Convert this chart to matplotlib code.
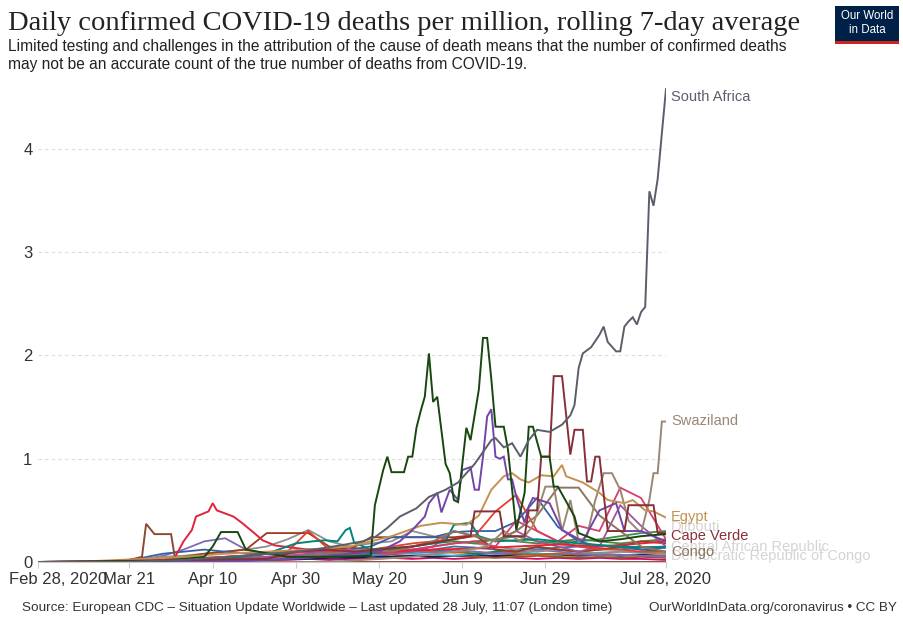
import numpy as np
import pandas as pd
import matplotlib
matplotlib.use("Agg")
from matplotlib import pyplot as plt
from matplotlib import transforms
from matplotlib.patches import Rectangle

W, H = 904, 619
START = pd.Timestamp("2020-02-28")

# x axis: days since Feb 28, 2020
tick_days = [0, 22, 42, 62, 82, 102, 122, 151]
tick_labels = ["Feb 28, 2020", "Mar 21", "Apr 10", "Apr 30", "May 20", "Jun 9", "Jun 29", "Jul 28, 2020"]
y_ticks = [0, 1, 2, 3, 4]

# coarse grid used by the many low-level countries
grid_days = list(range(0, 150, 5)) + [151]

# --- highlighted series (day, value) ---
south_africa_days = [0, 20, 28, 35, 42, 50, 56, 62, 68, 74, 78, 81, 84, 87, 91, 94, 98, 101, 105, 109,
                     110, 112, 114, 116, 118, 120, 123, 126, 128, 129, 130, 131, 133, 135, 136, 137, 139,
                     140, 141, 142, 143, 144, 145, 146, 147, 148, 149, 150, 151]
south_africa = [0, 0, 0.01, 0.02, 0.04, 0.06, 0.08, 0.1, 0.13, 0.17, 0.2, 0.24, 0.33, 0.44, 0.52, 0.63,
                0.7, 0.77, 0.95, 1.18, 1.2, 1.11, 1.15, 1.02, 1.18, 1.28, 1.26, 1.33, 1.42, 1.52, 1.88,
                2.02, 2.08, 2.2, 2.28, 2.13, 2.04, 2.04, 2.28, 2.33, 2.37, 2.3, 2.42, 2.47, 3.59, 3.45,
                3.71, 4.15, 4.58]

dark_green_days = [0, 30, 40, 42, 44, 48, 50, 60, 70, 80, 81, 83, 84, 85, 88, 89, 90, 91, 92, 93,
                   94, 95, 96, 98, 99, 100, 101, 103, 104, 106, 107, 108, 109, 110, 112, 113, 114, 115,
                   117, 118, 119, 121, 123, 124, 125, 129, 130, 135, 140, 145, 151]
dark_green = [0, 0.01, 0.05, 0.15, 0.29, 0.29, 0.12, 0.05, 0.05, 0.06, 0.55, 0.89, 1.02, 0.87, 0.87,
              1.02, 1.02, 1.3, 1.46, 1.6, 2.02, 1.55, 1.6, 0.95, 0.86, 0.6, 0.58, 1.3, 1.18, 1.67, 2.17,
              2.17, 1.77, 1.31, 1.31, 1.09, 0.7, 0.31, 0.67, 1.31, 1.31, 1.02, 1.02, 0.73, 0.73, 0.44,
              0.28, 0.2, 0.22, 0.25, 0.27]

purple_days = [0, 50, 65, 75, 82, 87, 90, 93, 94, 96, 97, 99, 101, 102, 104, 105, 106, 107, 108, 109,
               110, 111, 112, 113, 114, 115, 117, 118, 119, 123, 126, 131, 135, 139, 141, 145, 151]
purple = [0, 0.01, 0.04, 0.08, 0.1, 0.2, 0.31, 0.44, 0.57, 0.67, 0.48, 0.7, 0.6, 0.89, 0.92, 0.7, 0.7,
          1.02, 1.41, 1.48, 1.02, 1.0, 1.02, 0.8, 0.8, 0.63, 0.38, 0.54, 0.62, 0.57, 0.31, 0.2, 0.5,
          0.57, 0.3, 0.3, 0.2]

cape_verde_days = [0, 55, 62, 70, 76, 90, 104, 105, 111, 112, 117, 118, 120, 121, 123, 124, 126, 128,
                   129, 131, 132, 133, 134, 135, 137, 141, 142, 148, 149, 151]
cape_verde = [0, 0.03, 0.1, 0.12, 0.1, 0.15, 0.25, 0.49, 0.49, 0.25, 0.25, 0.5, 0.5, 1.02, 1.02, 1.8,
              1.8, 1.04, 1.28, 1.28, 0.78, 0.78, 1.02, 1.02, 0.3, 0.3, 0.55, 0.55, 0.28, 0.28]

swaziland_days = [0, 70, 90, 100, 108, 112, 116, 119, 122, 124, 126, 128, 130, 132, 134, 136, 138,
                  140, 142, 145, 147, 148, 149, 150, 151]
swaziland = [0, 0, 0.05, 0.1, 0.15, 0.3, 0.2, 0.35, 0.73, 0.73, 0.3, 0.6, 0.2, 0.25, 0.6, 0.86, 0.86,
             0.7, 0.4, 0.28, 0.6, 0.86, 0.86, 1.36, 1.36]

egypt_days = [0, 14, 25, 35, 45, 55, 65, 75, 85, 92, 97, 103, 106, 109, 112, 114, 116, 118, 121, 124,
              126, 127, 131, 135, 137, 141, 143, 146, 148, 151]
egypt = [0, 0.01, 0.03, 0.05, 0.08, 0.1, 0.12, 0.15, 0.25, 0.35, 0.38, 0.36, 0.45, 0.7, 0.83, 0.86,
         0.8, 0.77, 0.84, 0.83, 0.94, 0.83, 0.77, 0.67, 0.6, 0.57, 0.6, 0.5, 0.49, 0.43]

red_days = [0, 25, 30, 33, 35, 37, 38, 41, 42, 43, 45, 47, 49, 52, 54, 57, 59, 65, 75, 85, 95, 105,
            115, 125, 135, 145, 151]
red = [0, 0.01, 0.02, 0.05, 0.2, 0.31, 0.44, 0.49, 0.57, 0.5, 0.47, 0.44, 0.38, 0.28, 0.21, 0.16, 0.15,
       0.12, 0.1, 0.1, 0.12, 0.13, 0.15, 0.17, 0.15, 0.18, 0.2]

brown_days = [0, 20, 25, 26, 28, 32, 33, 40, 50, 60, 70, 80, 90, 100, 110, 120, 130, 140, 151]
brown = [0, 0, 0.05, 0.37, 0.27, 0.27, 0.02, 0.02, 0.01, 0, 0, 0, 0, 0, 0, 0, 0, 0, 0]

teal_days = [0, 30, 45, 55, 62, 66, 69, 72, 74, 75, 76, 80, 90, 98, 100, 104, 106, 110, 120, 130, 140, 151]
teal = [0, 0.01, 0.03, 0.08, 0.18, 0.2, 0.21, 0.2, 0.31, 0.33, 0.19, 0.12, 0.15, 0.2, 0.36, 0.38, 0.25,
        0.2, 0.22, 0.18, 0.15, 0.14]

# --- low-level countries on the 5-day grid ---
congo = [0, 0, 0, 0, 0, 0, 0, 0, 0, 0.01, 0.02, 0.03, 0.05, 0.06, 0.08, 0.1, 0.12, 0.1, 0.15, 0.2,
         0.3, 0.25, 0.2, 0.3, 0.45, 0.72, 0.72, 0.45, 0.3, 0.15, 0.1]
low_blue = [0, 0, 0, 0, 0.01, 0.04, 0.08, 0.1, 0.12, 0.1, 0.08, 0.08, 0.1, 0.09, 0.1, 0.12, 0.15, 0.24,
            0.24, 0.24, 0.29, 0.3, 0.3, 0.39, 0.62, 0.34, 0.2, 0.15, 0.16, 0.12, 0.14]
low_slate = [0, 0, 0, 0, 0, 0.02, 0.06, 0.12, 0.2, 0.23, 0.12, 0.08, 0.06, 0.05, 0.06, 0.07, 0.06, 0.08,
             0.1, 0.09, 0.12, 0.1, 0.08, 0.1, 0.12, 0.1, 0.08, 0.06, 0.07, 0.06, 0.05]
low_orange = [0, 0, 0, 0, 0, 0.01, 0.02, 0.03, 0.04, 0.05, 0.06, 0.08, 0.1, 0.12, 0.13, 0.14, 0.12, 0.1,
              0.12, 0.1, 0.09, 0.1, 0.08, 0.08, 0.07, 0.08, 0.07, 0.08, 0.07, 0.06, 0.06]
low_rust = [0, 0, 0, 0, 0, 0, 0.02, 0.05, 0.08, 0.1, 0.12, 0.28, 0.28, 0.28, 0.15, 0.12, 0.24, 0.24,
            0.24, 0.24, 0.24, 0.26, 0.12, 0.1, 0.15, 0.12, 0.1, 0.12, 0.15, 0.2, 0.18]
low_pink = [0, 0, 0, 0, 0, 0, 0.01, 0.02, 0.04, 0.05, 0.06, 0.08, 0.08, 0.1, 0.12, 0.1, 0.1, 0.09, 0.12,
            0.15, 0.18, 0.2, 0.15, 0.4, 0.3, 0.2, 0.35, 0.3, 0.72, 0.62, 0.22]
low_gray = [0, 0, 0, 0, 0, 0.03, 0.05, 0.06, 0.08, 0.1, 0.12, 0.15, 0.22, 0.31, 0.2, 0.15, 0.18, 0.2,
            0.3, 0.25, 0.2, 0.18, 0.15, 0.12, 0.1, 0.12, 0.1, 0.08, 0.1, 0.09, 0.08]
low_green = [0, 0, 0, 0, 0, 0, 0.01, 0.02, 0.03, 0.05, 0.06, 0.08, 0.1, 0.12, 0.1, 0.08, 0.1, 0.12,
             0.15, 0.18, 0.2, 0.18, 0.22, 0.25, 0.2, 0.18, 0.2, 0.22, 0.25, 0.28, 0.3]
low_magenta = [0, 0, 0, 0, 0, 0, 0, 0.01, 0.02, 0.03, 0.04, 0.05, 0.06, 0.08, 0.1, 0.12, 0.1, 0.08,
               0.1, 0.15, 0.3, 0.25, 0.2, 0.3, 0.2, 0.15, 0.1, 0.15, 0.55, 0.35, 0.15]
low_salmon = [0, 0, 0, 0, 0, 0, 0.01, 0.02, 0.03, 0.05, 0.06, 0.08, 0.1, 0.3, 0.12, 0.1, 0.12, 0.15,
              0.18, 0.2, 0.22, 0.25, 0.49, 0.65, 0.3, 0.2, 0.15, 0.12, 0.12, 0.1, 0.1]
low_olive = [0, 0, 0, 0, 0, 0, 0, 0.01, 0.02, 0.03, 0.04, 0.05, 0.06, 0.07, 0.08, 0.1, 0.12, 0.14, 0.12,
             0.15, 0.18, 0.2, 0.22, 0.2, 0.18, 0.2, 0.22, 0.2, 0.18, 0.2, 0.22]
low_navy = [0, 0, 0, 0, 0, 0, 0, 0, 0.01, 0.01, 0.02, 0.02, 0.03, 0.03, 0.04, 0.04, 0.05, 0.05, 0.06,
            0.05, 0.06, 0.07, 0.06, 0.07, 0.08, 0.07, 0.06, 0.07, 0.06, 0.07, 0.06]
low_cyan = [0, 0, 0, 0, 0, 0, 0, 0.01, 0.01, 0.02, 0.03, 0.04, 0.05, 0.06, 0.05, 0.06, 0.08, 0.1, 0.08,
            0.07, 0.06, 0.08, 0.09, 0.1, 0.08, 0.07, 0.08, 0.09, 0.1, 0.09, 0.08]
low_steel = [0, 0, 0, 0, 0, 0, 0.01, 0.02, 0.03, 0.03, 0.04, 0.05, 0.06, 0.07, 0.06, 0.08, 0.1, 0.12,
             0.1, 0.12, 0.15, 0.14, 0.12, 0.1, 0.12, 0.14, 0.15, 0.13, 0.12, 0.14, 0.15]
low_brown = [0, 0, 0, 0, 0, 0, 0, 0, 0.01, 0.02, 0.03, 0.03, 0.04, 0.05, 0.04, 0.05, 0.06, 0.07, 0.06,
             0.05, 0.06, 0.05, 0.04, 0.05, 0.06, 0.05, 0.04, 0.05, 0.04, 0.05, 0.04]
low_hotpink = [0, 0, 0, 0, 0, 0, 0, 0, 0, 0.01, 0.01, 0.02, 0.02, 0.03, 0.02, 0.03, 0.03, 0.04, 0.03,
               0.04, 0.03, 0.04, 0.05, 0.04, 0.03, 0.04, 0.03, 0.04, 0.03, 0.03, 0.02]
low_teal = [0, 0, 0, 0, 0, 0, 0.01, 0.02, 0.02, 0.03, 0.04, 0.04, 0.05, 0.06, 0.07, 0.06, 0.08, 0.09,
            0.1, 0.12, 0.1, 0.08, 0.1, 0.12, 0.14, 0.12, 0.1, 0.12, 0.14, 0.12, 0.1]

# labels at the right edge: (text, y value, colour)
end_labels = [("South Africa", 4.50, "#5b5e6a"),
              ("Swaziland", 1.37, "#9b8673"),
              ("Egypt", 0.44, "#c49150"),
              ("Cape Verde", 0.25, "#883039"),
              ("Congo", 0.10, "#8c7660")]
# labels drawn faded behind the others where they collide
faded_labels = [("Djibouti", 0.34), ("Central African Republic", 0.15),
                ("Democratic Republic of Congo", 0.06)]


def to_dates(days):
    return START + pd.to_timedelta(np.asarray(days, dtype=float), unit="D")


def px(x, y):
    # pixel position (from top-left) to figure fraction
    return x / W, 1 - y / H


SANS = "Liberation Sans"

fig = plt.figure(figsize=(W / 100, H / 100), dpi=100)
ax = fig.add_axes([38 / W, 1 - 562 / H, 628 / W, 475 / H])

low_series = [
    (low_hotpink, "#cf0a66"), (low_brown, "#9a5129"), (low_navy, "#00295b"), (low_cyan, "#38aaba"),
    (low_teal, "#00875e"), (low_steel, "#4c6a9c"), (low_olive, "#578145"), (low_orange, "#c05917"),
    (low_slate, "#7d6bb5"), (low_gray, "#8f8f8f"), (low_green, "#3b8e3d"), (low_rust, "#a0381c"),
    (low_blue, "#3360a9"), (low_magenta, "#a2559c"), (low_salmon, "#e4402c"), (low_pink, "#d73c6a"),
]
grid_dates = to_dates(grid_days)
for values, color in low_series:
    ax.plot(grid_dates, values, color=color, lw=1.3, solid_joinstyle="miter")

main_series = [
    (red_days, red, "#e0243c"),
    (brown_days, brown, "#8b4a32"),
    (teal_days, teal, "#00847e"),
    (grid_days, congo, "#8c7660"),
    (swaziland_days, swaziland, "#9b8673"),
    (egypt_days, egypt, "#c49150"),
    (purple_days, purple, "#7246a8"),
    (cape_verde_days, cape_verde, "#883039"),
    (dark_green_days, dark_green, "#18470f"),
    (south_africa_days, south_africa, "#5b5e6a"),
]
for days, values, color in main_series:
    ax.plot(to_dates(days), values, color=color, lw=1.4, solid_joinstyle="miter")

ax.set_xlim(to_dates([0])[0], to_dates([151])[0])
ax.set_ylim(0, 4.6)

ax.set_yticks(y_ticks)
ax.set_yticklabels([str(v) for v in y_ticks])
ax.set_xticks(to_dates(tick_days))
ax.set_xticklabels(tick_labels)

ax.grid(axis="y", color="#dddddd", linestyle=(0, (3, 3)), lw=0.8)
ax.set_axisbelow(True)
for side in ["top", "right", "left"]:
    ax.spines[side].set_visible(False)
ax.spines["bottom"].set_color("#cccccc")
ax.tick_params(axis="x", length=4, color="#cccccc", pad=3, labelsize=12, labelcolor="#333333")
ax.tick_params(axis="y", length=0, pad=4, labelsize=12, labelcolor="#333333")
for lbl in ax.get_xticklabels() + ax.get_yticklabels():
    lbl.set_fontfamily(SANS)

# first date label is pushed inside the figure
first = ax.get_xticklabels()[0]
first.set_ha("left")
first.set_transform(first.get_transform() + transforms.ScaledTranslation(-29 / 100, 0, fig.dpi_scale_trans))

# end-of-line labels
for text, yv in faded_labels:
    ax.annotate(text, xy=(1, yv), xycoords=("axes fraction", "data"), xytext=(5, 0),
                textcoords="offset pixels", va="center", ha="left", fontsize=10.5,
                color="#d4d4d4", family=SANS, annotation_clip=False)
for text, yv, color in end_labels:
    ax.annotate(text, xy=(1, yv), xycoords=("axes fraction", "data"), xytext=(5, 0),
                textcoords="offset pixels", va="center", ha="left", fontsize=10.5,
                color=color, family=SANS, annotation_clip=False)

# title block
fig.text(*px(8, 30), "Daily confirmed COVID-19 deaths per million, rolling 7-day average",
         fontsize=20.5, family="Liberation Serif", color="#222222", va="baseline")
fig.text(*px(8, 51), "Limited testing and challenges in the attribution of the cause of death means "
         "that the number of confirmed deaths", fontsize=11.2, family=SANS, color="#222222", va="baseline")
fig.text(*px(8, 69), "may not be an accurate count of the true number of deaths from COVID-19.",
         fontsize=11.2, family=SANS, color="#222222", va="baseline")

# footer
fig.text(*px(22, 611), "Source: European CDC \u2013 Situation Update Worldwide \u2013 Last updated 28 July, "
         "11:07 (London time)", fontsize=9.7, family=SANS, color="#333333", va="baseline")
fig.text(*px(897, 611), "OurWorldInData.org/coronavirus \u2022 CC BY", fontsize=9.7, family=SANS,
         color="#333333", va="baseline", ha="right")

# logo
x0, y0 = px(835, 44)
fig.patches.append(Rectangle((x0, y0), 64 / W, 38 / H, transform=fig.transFigure,
                             facecolor="#002147", edgecolor="none"))
fig.patches.append(Rectangle((x0, y0), 64 / W, 3.5 / H, transform=fig.transFigure,
                             facecolor="#ce261e", edgecolor="none"))
fig.text(*px(867, 16), "Our World", fontsize=8.3, family=SANS, color="white", ha="center", va="center")
fig.text(*px(867, 30), "in Data", fontsize=8.3, family=SANS, color="white", ha="center", va="center")

fig.savefig("out.png", dpi=100)
